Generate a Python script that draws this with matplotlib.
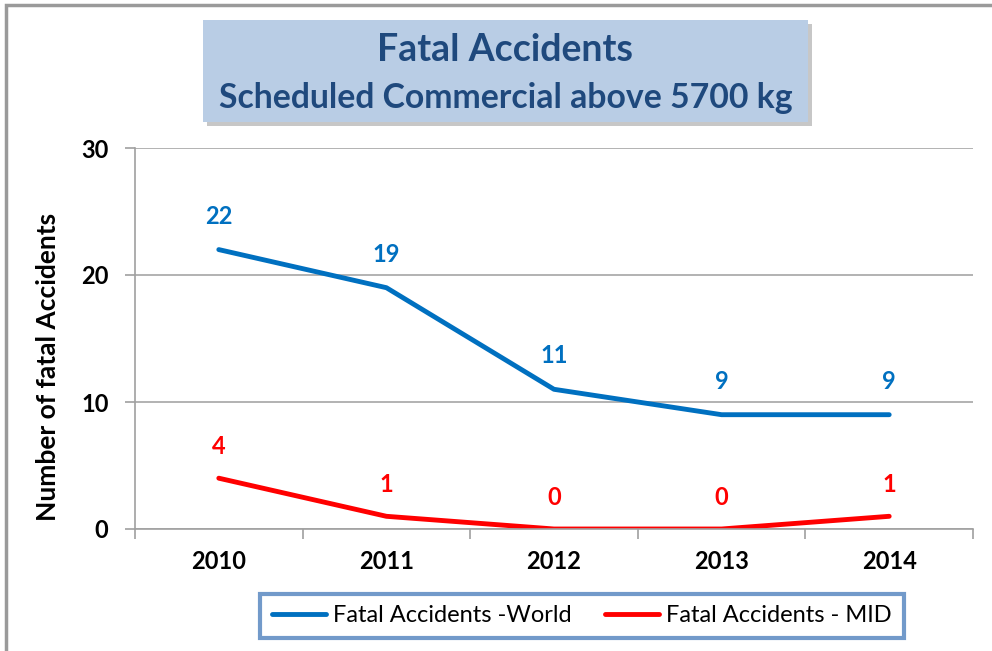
import matplotlib
matplotlib.use("Agg")
import matplotlib.pyplot as plt
from matplotlib.patches import Rectangle

plt.rcParams["font.family"] = ["Lato", "DejaVu Sans"]

years = ["2010", "2011", "2012", "2013", "2014"]
world = [22, 19, 11, 9, 9]
mid = [4, 1, 0, 0, 1]
y_ticks = [0, 10, 20, 30]

W, H = 992, 651
fig = plt.figure(figsize=(W / 100, H / 100), dpi=100)
fig.patch.set_facecolor("white")

# outer frame (cut at right and bottom like the screenshot)
fig.patches.append(Rectangle((6 / W, -0.1), 1.2, 1 - 5 / H + 0.1, transform=fig.transFigure,
                             fill=False, edgecolor="#9a9a9a", linewidth=2.5))

# title box with shadow
bx0, bx1, by0, by1 = 203, 808, 20, 122
fig.patches.append(Rectangle(((bx0 + 4) / W, 1 - (by1 + 4) / H), (bx1 - bx0) / W, (by1 - by0) / H,
                             transform=fig.transFigure, facecolor="#9a9a9a", edgecolor="none", alpha=0.55))
fig.patches.append(Rectangle((bx0 / W, 1 - by1 / H), (bx1 - bx0) / W, (by1 - by0) / H,
                             transform=fig.transFigure, facecolor="#b9cde5", edgecolor="none"))
fig.text((bx0 + bx1) / 2 / W, 1 - 50 / H, "Fatal Accidents", ha="center", va="center",
         fontsize=27, fontweight="bold", color="#1f497d")
fig.text((bx0 + bx1) / 2 / W, 1 - 98 / H, "Scheduled Commercial above 5700 kg", ha="center", va="center",
         fontsize=24.3, fontweight="bold", color="#1f497d")

ax = fig.add_axes([135 / W, 1 - 529 / H, (973 - 135) / W, (529 - 148) / H])
x = list(range(len(years)))
l1, = ax.plot(x, world, color="#0070c0", linewidth=3.5, solid_capstyle="round", label="Fatal Accidents -World")
l2, = ax.plot(x, mid, color="#ff0000", linewidth=3.5, solid_capstyle="round", label="Fatal Accidents - MID")

for xi, v in zip(x, world):
    ax.annotate(str(v), (xi, v), xytext=(0, 24), textcoords="offset points", ha="center", va="center",
                fontsize=17, fontweight="bold", color="#0070c0")
for xi, v in zip(x, mid):
    ax.annotate(str(v), (xi, v), xytext=(0, 23), textcoords="offset points", ha="center", va="center",
                fontsize=17, fontweight="bold", color="#ff0000")

ax.set_xlim(-0.5, len(years) - 0.5)
ax.set_ylim(0, 30)
ax.set_yticks(y_ticks)
ax.set_yticklabels([str(t) for t in y_ticks], fontsize=17, fontweight="bold")
ax.set_xticks(x)
ax.set_xticklabels(years, fontsize=17, fontweight="bold")
ax.set_xticks([i - 0.5 for i in range(len(years) + 1)], minor=True)
ax.tick_params(axis="x", which="major", length=0, pad=15)
ax.tick_params(axis="x", which="minor", length=7, color="#a0a0a0", width=1.2)
ax.tick_params(axis="y", length=7, color="#a0a0a0", width=1.2, pad=12)
ax.grid(axis="y", color="#a6a6a6", linewidth=1.2)
ax.set_axisbelow(True)
for s in ["top", "right"]:
    ax.spines[s].set_visible(False)
for s in ["left", "bottom"]:
    ax.spines[s].set_color("#a0a0a0")
    ax.spines[s].set_linewidth(1.2)
ax.set_ylabel("Number of fatal Accidents", fontsize=19, fontweight="bold")
ax.yaxis.set_label_coords(-0.089, 0.425)

leg = fig.legend(handles=[l1, l2], loc="center", bbox_to_anchor=(582 / W, 1 - 616 / H), ncol=2,
                 fontsize=17, frameon=True, fancybox=False, handlelength=2.3, columnspacing=1.4,
                 handletextpad=0.3, borderpad=0.5)
leg.get_frame().set_edgecolor("#4f81bd")
leg.get_frame().set_linewidth(3)

fig.savefig("out.png", dpi=100)
